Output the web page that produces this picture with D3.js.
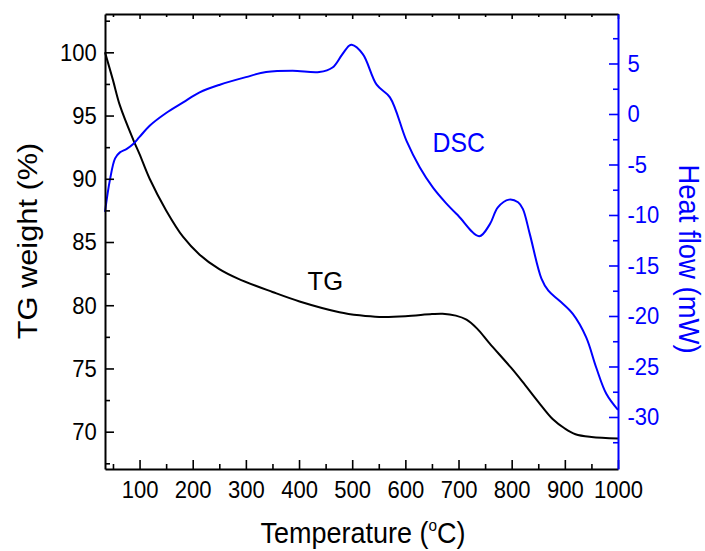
<!DOCTYPE html>
<html><head><meta charset="utf-8">
<script src="https://cdn.jsdelivr.net/npm/d3@7"></script>
<style>
body{margin:0;background:#fff}
svg{display:block;background:#fff}
text{font-family:Arial,"Liberation Sans",Helvetica,sans-serif}
</style>
</head><body>
<svg id="chart" width="705" height="551"></svg>
<script>
// ---- data ----
const tgTemp   = [35, 50, 63, 88, 100, 119, 150, 182, 213, 250, 285, 350, 401, 476, 514, 551, 600, 650, 670, 695, 715, 735, 758, 800, 825, 850, 877, 900, 920, 950, 1000];
const tgWeight = [100.0, 97.8, 95.8, 93.1, 91.95, 90.0, 87.5, 85.4, 84.0, 82.85, 82.1, 81.05, 80.3, 79.45, 79.2, 79.07, 79.12, 79.3, 79.33, 79.18, 78.86, 78.15, 77.0, 75.0, 73.7, 72.36, 71.0, 70.25, 69.8, 69.58, 69.46];

const dscTemp = [35, 44, 54, 63, 76, 88, 100, 119, 150, 182, 213, 251, 300, 338, 388, 438, 463, 480, 494, 499, 520, 546, 571, 602, 627, 652, 676, 700, 739, 759, 774, 795, 812, 821, 834, 856, 869, 890, 915, 940, 959, 978, 1000];
const dscHeat = [-9.7, -6.6, -4.4, -3.8, -3.45, -2.97, -2.27, -1.16, 0.1, 1.15, 2.14, 2.9, 3.65, 4.15, 4.28, 4.15, 4.6, 5.8, 6.75, 6.85, 5.93, 2.9, 1.64, -2.64, -5.28, -7.3, -8.8, -10.1, -12.1, -10.9, -9.24, -8.48, -8.74, -9.4, -11.87, -16.3, -17.5, -18.5, -19.8, -22.1, -25.1, -27.7, -29.3];

const xTicks      = [100, 200, 300, 400, 500, 600, 700, 800, 900, 1000];
const xMinorTicks = [50, 150, 250, 350, 450, 550, 650, 750, 850, 950];
const tgTicks      = [70, 75, 80, 85, 90, 95, 100];
const tgMinorTicks = [67.5, 72.5, 77.5, 82.5, 87.5, 92.5, 97.5, 102.5];
const dscTicks      = [-30, -25, -20, -15, -10, -5, 0, 5];
const dscMinorTicks = [-32.5, -27.5, -22.5, -17.5, -12.5, -7.5, -2.5, 2.5, 7.5];

// ---- layout ----
const W = 705, H = 551;
const L = 105, R = 618, T = 14, B = 469;
const BLUE = "#0000ff";
const svg = d3.select("#chart");
svg.append("rect").attr("width", W).attr("height", H).attr("fill", "#fff");

const x  = d3.scaleLinear().domain([35, 1000]).range([L, R]);
const yL = d3.scaleLinear().domain([67.05, 103.03]).range([B, T]);
const yR = d3.scaleLinear().domain([-35.15, 9.9]).range([B, T]);

const TICKFS = 24.5, TICKSX = 0.9;
function styleAxis(g, color) {
  g.attr("font-size", null).attr("font-family", null);
  g.select(".domain").attr("stroke", color).attr("stroke-width", 2);
  g.selectAll(".tick line").attr("stroke", color).attr("stroke-width", 1.6);
  g.selectAll(".tick text").attr("fill", color).attr("font-size", TICKFS)
    .attr("transform", `scale(${TICKSX},1)`);
}
function minor(g, axis, color) {
  const m = g.append("g").call(axis);
  m.select(".domain").remove();
  m.selectAll(".tick line").attr("stroke", color).attr("stroke-width", 1.6);
  m.selectAll(".tick text").remove();
}

// curves
const tgData = tgTemp.map((t, i) => [t, tgWeight[i]]);
const dscData = dscTemp.map((t, i) => [t, dscHeat[i]]);
const smooth = d3.curveCatmullRom.alpha(0.5);
svg.append("path").datum(tgData)
  .attr("fill", "none").attr("stroke", "#000").attr("stroke-width", 2)
  .attr("d", d3.line().x(d => x(d[0])).y(d => yL(d[1])).curve(smooth));
svg.append("path").datum(dscData)
  .attr("fill", "none").attr("stroke", BLUE).attr("stroke-width", 2)
  .attr("d", d3.line().x(d => x(d[0])).y(d => yR(d[1])).curve(smooth));

// bottom axis
const gB = svg.append("g").attr("transform", `translate(0,${B})`)
  .call(d3.axisBottom(x).tickValues(xTicks).tickSizeInner(-9).tickSizeOuter(0).tickPadding(11.5).tickFormat(d3.format("d")));
styleAxis(gB, "#000");
minor(gB, d3.axisBottom(x).tickValues(xMinorTicks).tickSize(-5).tickFormat(""), "#000");

// top axis
const gT = svg.append("g").attr("transform", `translate(0,${T})`)
  .call(d3.axisTop(x).tickValues(xTicks).tickSizeInner(-5).tickSizeOuter(0).tickFormat(""));
styleAxis(gT, "#000");
minor(gT, d3.axisTop(x).tickValues(xMinorTicks).tickSize(-3).tickFormat(""), "#000");

// left axis
const gL = svg.append("g").attr("transform", `translate(${L},0)`)
  .call(d3.axisLeft(yL).tickValues(tgTicks).tickSizeInner(-9).tickSizeOuter(0).tickPadding(9.2).tickFormat(d3.format("d")));
styleAxis(gL, "#000");
minor(gL, d3.axisLeft(yL).tickValues(tgMinorTicks).tickSize(-5).tickFormat(""), "#000");

// right axis (blue)
const gR = svg.append("g").attr("transform", `translate(${R},0)`)
  .call(d3.axisRight(yR).tickValues(dscTicks).tickSizeInner(-9).tickSizeOuter(0).tickPadding(10.5).tickFormat(d => String(d)));
styleAxis(gR, BLUE);
minor(gR, d3.axisRight(yR).tickValues(dscMinorTicks).tickSize(-5).tickFormat(""), BLUE);

// titles
const xt = svg.append("text").attr("text-anchor", "middle").attr("font-size", 30).attr("fill", "#000")
  .attr("transform", `translate(363,543) scale(0.9,1)`);
xt.append("tspan").text("Temperature (");
xt.append("tspan").attr("font-size", 17).attr("dy", -12).text("o");
xt.append("tspan").attr("dy", 12).text("C)");

svg.append("text").attr("text-anchor", "middle").attr("font-size", 28).attr("fill", "#000")
  .attr("transform", `translate(37,241) rotate(-90) scale(1.1,1)`).text("TG weight (%)");

svg.append("text").attr("text-anchor", "middle").attr("font-size", 30).attr("fill", BLUE)
  .attr("transform", `translate(679,259) rotate(90) scale(0.915,1)`).text("Heat flow (mW)");

// series labels
svg.append("text").attr("font-size", 25.6).attr("fill", "#000")
  .attr("transform", `translate(307.5,290)`).text("TG");
svg.append("text").attr("font-size", 28.5).attr("fill", BLUE)
  .attr("transform", `translate(432.5,152) scale(0.87,1)`).text("DSC");
</script>
</body></html>
